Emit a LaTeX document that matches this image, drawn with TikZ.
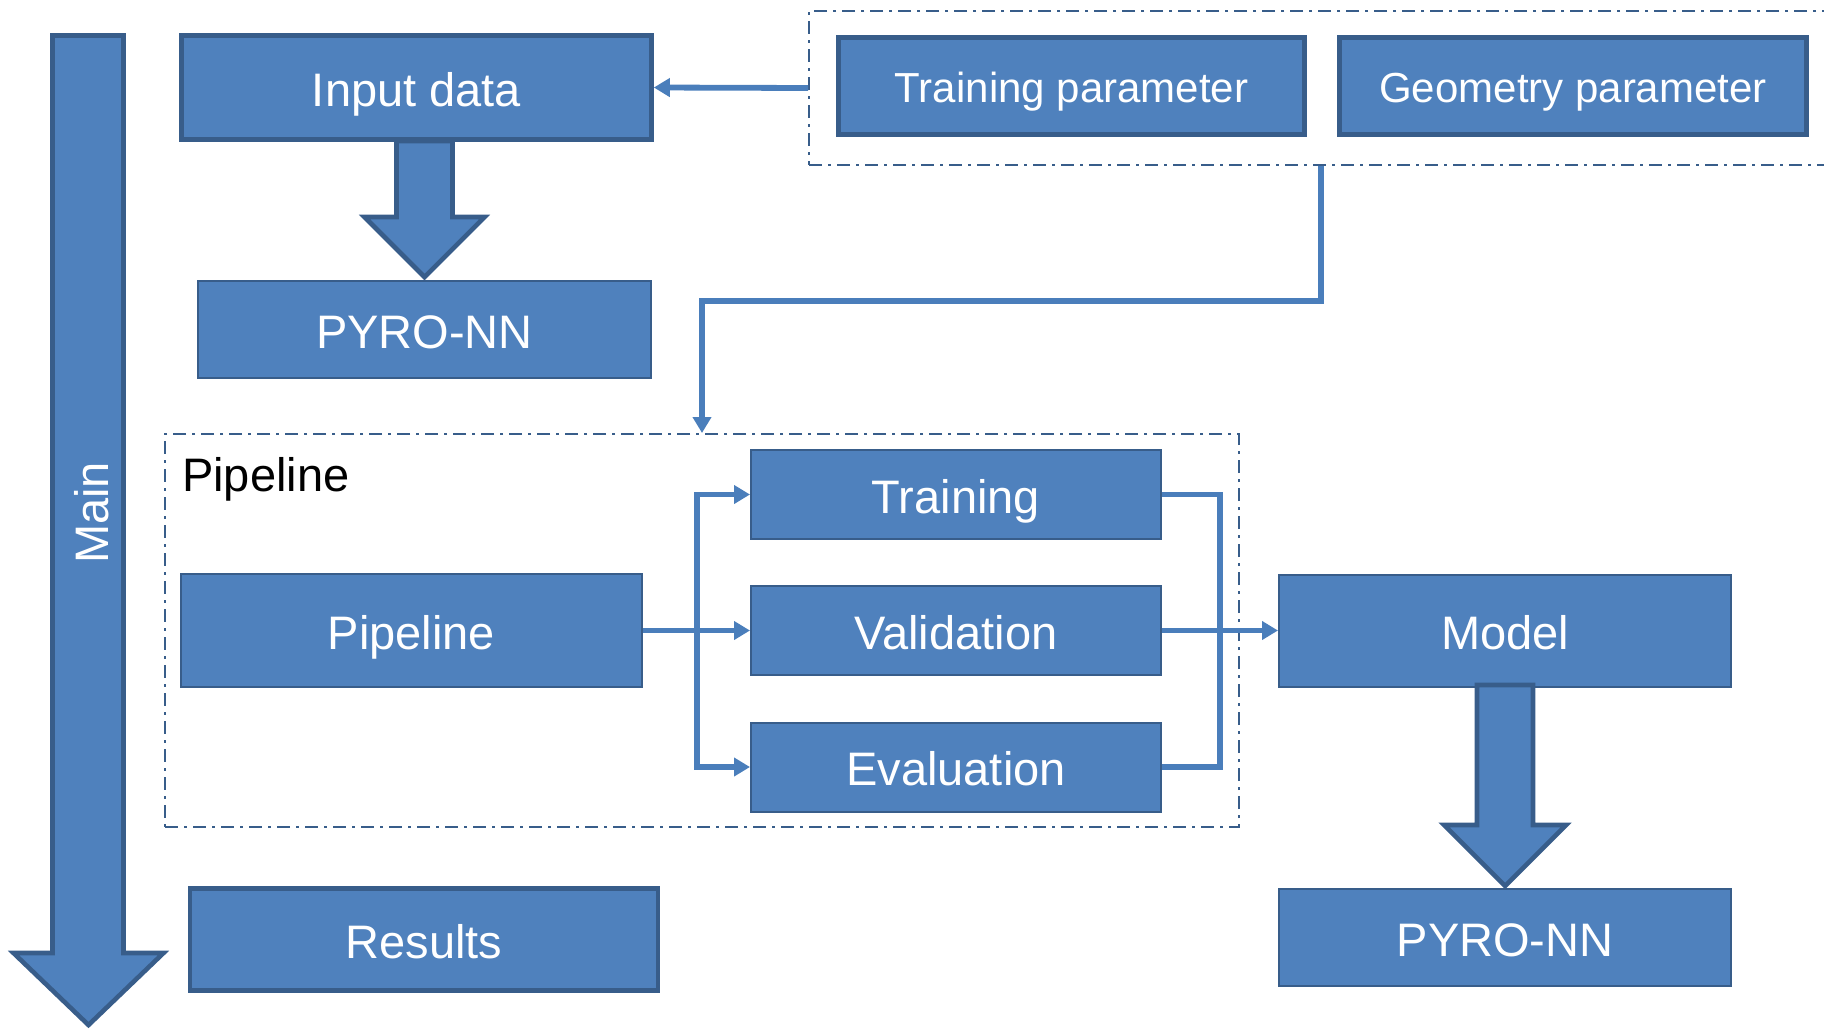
\documentclass[tikz,border=0pt]{standalone}
\usepackage{fontspec}
\setmainfont{Liberation Sans}
\usetikzlibrary{positioning,calc,arrows.meta}

\definecolor{boxfill}{RGB}{79,129,189}
\definecolor{boxedge}{RGB}{56,93,138}
\definecolor{linkblue}{RGB}{74,126,187}

\tikzset{
  bigtext/.style={font=\fontsize{23.5}{28}\selectfont, text height=18.8pt, text depth=0pt, inner sep=0pt},
  procbox/.style={bigtext, draw=boxedge, fill=boxfill, line width=1pt, text=white},
  heavybox/.style={procbox, line width=2.3pt},
  parbox/.style={heavybox, font=\fontsize{21}{25}\selectfont, text height=16pt},
  bigarrow/.style={draw=boxedge, fill=boxfill, line width=2.3pt, line join=miter},
  groupframe/.style={draw=boxedge, line width=1pt, dash pattern=on 6.5pt off 3pt on 1.5pt off 3pt},
  link/.style={draw=linkblue, line width=2.9pt},
  linkarrow/.style={link, -{Triangle[length=8pt,width=9pt]}},
}

\begin{document}
\begin{tikzpicture}[x=0.5pt,y=-0.5pt]
\useasboundingbox (0,0) rectangle (1824,1028);

%Shape: Main arrow
\draw[bigarrow] (52.5,35.5) -- (123.5,35.5) -- (123.5,953) -- (163.5,953) -- (88.5,1025) -- (13.5,953) -- (52.5,953) -- cycle;
\node[bigtext, rotate=90, text=white] (mainlabel) at (90,513) {Main};

% Input data and first PYRO-NN
\node[heavybox, minimum width=235pt, minimum height=52pt] (indata) at (416.5,87.5) {Input data};
\node[procbox, minimum width=226.5pt, minimum height=48.5pt] (pyro1) at (424.5,329.5) {PYRO-NN};

% Parameter group
\node[groupframe, minimum width=512pt, minimum height=77pt] (params) at (1321,88) {};
\node[parbox, minimum width=233pt, minimum height=48.5pt] (trainpar) at (1071.5,86) {Training parameter};
\node[parbox, minimum width=233.5pt, minimum height=48.5pt] (geompar) at (1573,86) {Geometry parameter};

% Pipeline group
\node[groupframe, minimum width=537pt, minimum height=196.5pt] (frame) at (702,630.5) {};
\node[bigtext, below right=10.2pt and 8.9pt of frame.north west] (pipetitle) {Pipeline};
\node[procbox, minimum width=230.5pt, minimum height=56.5pt] (pipe) at (411.5,630.5) {Pipeline};
\node[procbox, minimum width=205pt, minimum height=44.5pt] (train) at (956,494.5) {Training};
\node[procbox, minimum width=205pt, minimum height=44.5pt] (valid) at (956,630.5) {Validation};
\node[procbox, minimum width=205pt, minimum height=44.5pt] (eval) at (956,767) {Evaluation};

% Model, second PYRO-NN and results
\node[procbox, minimum width=226pt, minimum height=56pt] (model) at (1505,630.5) {Model};
\node[procbox, minimum width=226pt, minimum height=48.5pt] (pyro2) at (1505,937.5) {PYRO-NN};
\node[heavybox, minimum width=234pt, minimum height=51pt] (results) at (424,939.5) {Results};

%Shape: block arrows
\draw[bigarrow] ($(pyro1.north)+(0,-3)$) -- ++(60,-60) -- ++(-32,0) -- ++(0,-76) -- ++(-56,0) -- ++(0,76) -- ++(-32,0) -- cycle;
\draw[bigarrow] ($(pyro2.north)+(0,-2)$) -- ++(61,-61) -- ++(-33,0) -- ++(0,-140) -- ++(-56,0) -- ++(0,140) -- ++(-33,0) -- cycle;

% Connectors
\draw[linkarrow] (params.west) -- (indata.east);
\draw[linkarrow] (params.south) -- ++(0,135) -| (frame.north);
\draw[linkarrow] (pipe.east) -- (valid.west);
\draw[linkarrow] ($(pipe.east)+(54,0)$) |- (train.west);
\draw[linkarrow] ($(pipe.east)+(54,0)$) |- (eval.west);
\draw[link] (train.east) -- ++(58,0) |- (eval.east);
\draw[linkarrow] (valid.east) -- (model.west);

\end{tikzpicture}
\end{document}
